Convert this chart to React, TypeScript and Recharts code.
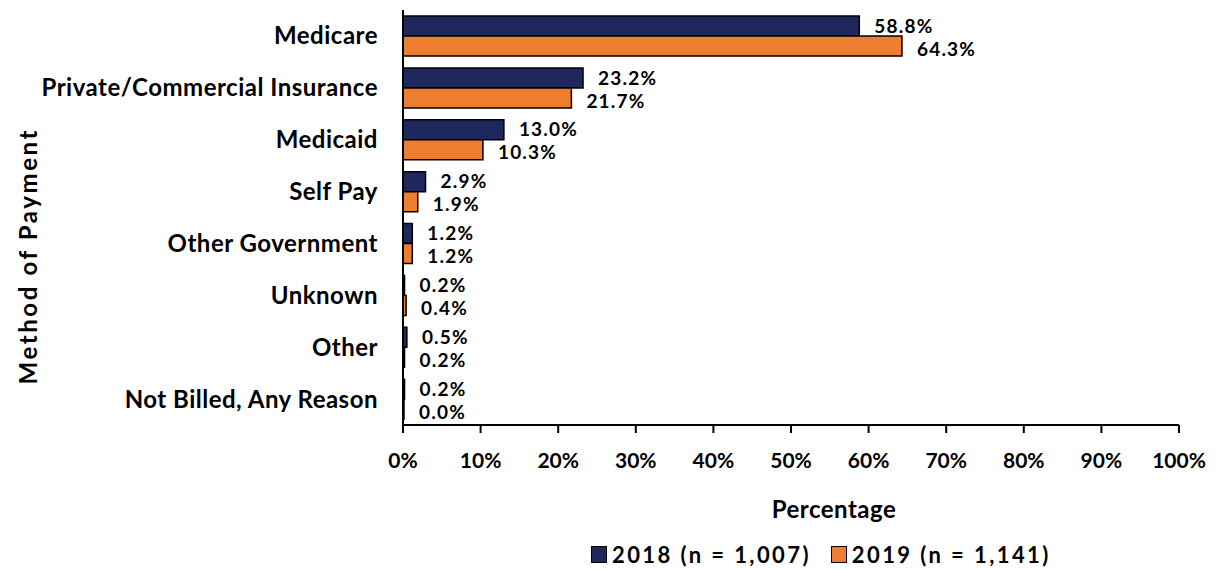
import { Bar, BarChart, LabelList, XAxis, YAxis } from "recharts";

const categories = [
  "Medicare",
  "Private/Commercial Insurance",
  "Medicaid",
  "Self Pay",
  "Other Government",
  "Unknown",
  "Other",
  "Not Billed, Any Reason",
];
const values2018 = [58.8, 23.2, 13.0, 2.9, 1.2, 0.2, 0.5, 0.2];
const values2019 = [64.3, 21.7, 10.3, 1.9, 1.2, 0.4, 0.2, 0.0];
const xTicks = [0, 10, 20, 30, 40, 50, 60, 70, 80, 90, 100];
const seriesNames = ["2018 (n = 1,007)", "2019 (n = 1,141)"];

const data = categories.map((name, i) => ({
  name,
  y2018: values2018[i],
  y2019: values2019[i],
}));

const font = "Lato, 'Open Sans', sans-serif";
const navy = "#1f285c";
const orange = "#ed7d31";

const labelStyle = {
  fill: "#000",
  fontSize: 19,
  fontWeight: 700,
  fontFamily: font,
  letterSpacing: 1.2,
};

function LegendBox() {
  const items = [
    { label: seriesNames[0], color: navy },
    { label: seriesNames[1], color: orange },
  ];
  return (
    <div
      style={{
        position: "absolute",
        left: 583,
        top: 533,
        display: "flex",
        gap: 20,
        fontFamily: font,
        fontWeight: 700,
        fontSize: 22,
        letterSpacing: 2.4,
        whiteSpace: "nowrap",
      }}
    >
      {items.map((it) => (
        <div key={it.label} style={{ display: "flex", alignItems: "center", gap: 5 }}>
          <span
            style={{
              width: 14,
              height: 15,
              background: it.color,
              border: "1px solid #000",
              display: "inline-block",
            }}
          />
          <span>{it.label}</span>
        </div>
      ))}
    </div>
  );
}

export default function App() {
  return (
    <div style={{ position: "relative", width: 1209, height: 561 }}>
      <BarChart
        width={1209}
        height={561}
        data={data}
        layout="vertical"
        margin={{ top: 2, right: 38, bottom: 0, left: 0 }}
        barCategoryGap={5}
        barGap={0}
      >
        <XAxis
          type="number"
          domain={[0, 100]}
          ticks={xTicks}
          tickFormatter={(v) => `${v}%`}
          axisLine={{ stroke: "#000", strokeWidth: 2 }}
          tickLine={{ stroke: "#000", strokeWidth: 2 }}
          tickSize={8}
          tickMargin={20}
          height={144}
          interval={0}
          tick={{ fill: "#000", fontSize: 21, fontWeight: 700, fontFamily: font }}
          label={{
            value: "Percentage",
            position: "insideTop",
            offset: 76,
            dx: 43,
            fill: "#000",
            fontSize: 24,
            fontWeight: 700,
            fontFamily: font,
            letterSpacing: 0.5,
          }}
        />
        <YAxis
          type="category"
          dataKey="name"
          width={395}
          tickLine={false}
          tickSize={0}
          tickMargin={25}
          axisLine={{ stroke: "#000", strokeWidth: 2 }}
          interval={0}
          tick={{ fill: "#000", fontSize: 24, fontWeight: 700, fontFamily: font, letterSpacing: 0.5 }}
          label={{
            value: "Method of Payment",
            angle: -90,
            position: "insideLeft",
            offset: 20,
            dy: 167,
            fill: "#000",
            fontSize: 24,
            fontWeight: 700,
            fontFamily: font,
            letterSpacing: 2.6,
          }}
        />
        <Bar
          dataKey="y2018"
          name={seriesNames[0]}
          fill={navy}
          stroke="#000"
          strokeWidth={1.5}
          barSize={20}
          minPointSize={1}
          isAnimationActive={false}
        >
          <LabelList
            dataKey="y2018"
            position="right"
            offset={15}
            formatter={(v: number) => `${v.toFixed(1)}%`}
            style={labelStyle}
          />
        </Bar>
        <Bar
          dataKey="y2019"
          name={seriesNames[1]}
          fill={orange}
          stroke="#000"
          strokeWidth={1.5}
          barSize={20}
          minPointSize={1}
          isAnimationActive={false}
        >
          <LabelList
            dataKey="y2019"
            position="right"
            offset={15}
            formatter={(v: number) => `${v.toFixed(1)}%`}
            style={{ ...labelStyle, transform: "translateY(3px)" }}
          />
        </Bar>
      </BarChart>
      <LegendBox />
    </div>
  );
}
